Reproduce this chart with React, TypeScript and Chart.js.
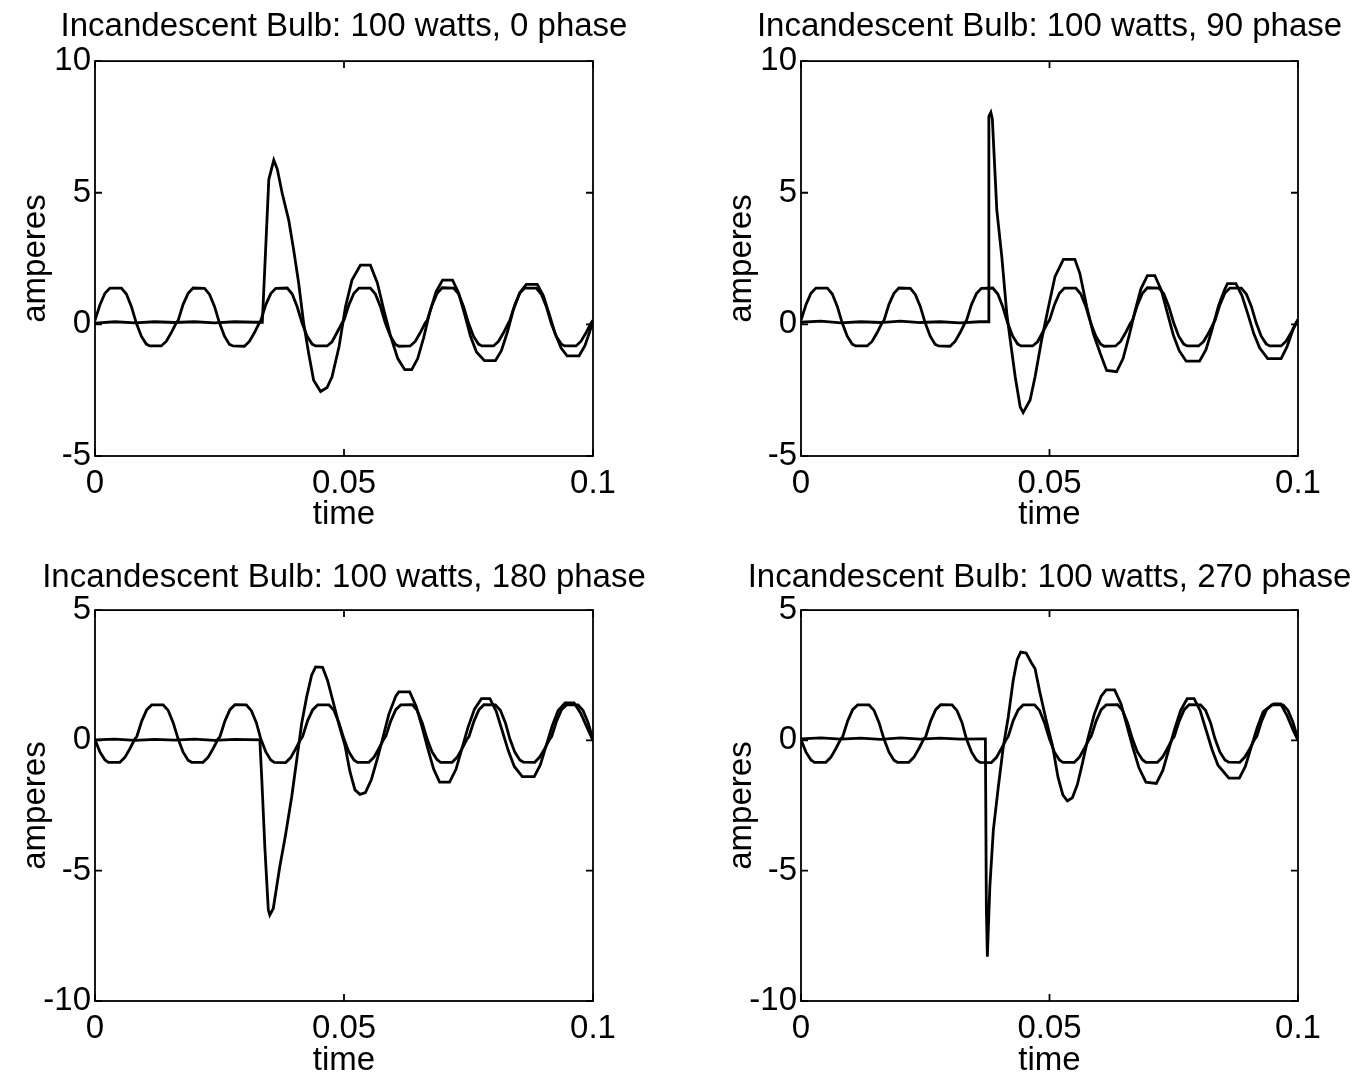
import React, { useEffect, useRef } from "react";
import { Chart, registerables } from "chart.js";

Chart.register(...registerables);

// ---------------- data ----------------
const TITLES = [
  "Incandescent Bulb: 100 watts, 0 phase",
  "Incandescent Bulb: 100 watts, 90 phase",
  "Incandescent Bulb: 100 watts, 180 phase",
  "Incandescent Bulb: 100 watts, 270 phase",
];
const X_TICKS = [0, 0.05, 0.1];
const Y_TICKS_TOP = [-5, 0, 5, 10];
const Y_TICKS_BOTTOM = [-10, -5, 0, 5];

// steady sinusoid, 0 / 90 phase panels
const TIME_SINE_A = [
  0, 0.001, 0.002, 0.003, 0.0053, 0.0063, 0.0073, 0.0083, 0.0093, 0.0103, 0.011, 0.0133, 0.0143, 0.0153, 0.0163,
  0.0167, 0.0177, 0.0187, 0.0197, 0.022, 0.023, 0.024, 0.025, 0.026, 0.027, 0.0277, 0.03, 0.031, 0.032, 0.033,
  0.0333, 0.0343, 0.0353, 0.0363, 0.0386, 0.0396, 0.0406, 0.0416, 0.0426, 0.0436, 0.0443, 0.0466, 0.0476, 0.0486, 0.0496,
  0.05, 0.051, 0.052, 0.053, 0.0553, 0.0563, 0.0573, 0.0583, 0.0593, 0.0603, 0.061, 0.0633, 0.0643, 0.0653, 0.0663,
  0.0667, 0.0677, 0.0687, 0.0697, 0.072, 0.073, 0.074, 0.075, 0.076, 0.077, 0.0777, 0.08, 0.081, 0.082, 0.083,
  0.0833, 0.0843, 0.0853, 0.0863, 0.0886, 0.0896, 0.0906, 0.0916, 0.0926, 0.0936, 0.0943, 0.0966, 0.0976, 0.0986, 0.0996,
  0.1,
];
const SINE_A = [
  0.15, 0.75, 1.18, 1.38, 1.38, 1.15, 0.68, 0.05, -0.45, -0.75, -0.82, -0.82, -0.65, -0.32, 0.05,
  0.15, 0.76, 1.18, 1.38, 1.37, 1.14, 0.68, 0.05, -0.45, -0.76, -0.82, -0.83, -0.65, -0.32, 0.06,
  0.15, 0.75, 1.17, 1.37, 1.38, 1.15, 0.67, 0.04, -0.45, -0.75, -0.82, -0.82, -0.66, -0.31, 0.05,
  0.16, 0.75, 1.18, 1.38, 1.38, 1.15, 0.68, 0.05, -0.44, -0.75, -0.83, -0.82, -0.65, -0.32, 0.05,
  0.15, 0.74, 1.18, 1.39, 1.38, 1.16, 0.68, 0.05, -0.45, -0.75, -0.82, -0.82, -0.65, -0.33, 0.05,
  0.15, 0.75, 1.19, 1.38, 1.38, 1.15, 0.69, 0.05, -0.45, -0.74, -0.82, -0.82, -0.64, -0.32, 0.05,
  0.15,
];

// steady sinusoid, 180 / 270 phase panels
const TIME_SINE_B = [
  0, 0.001, 0.002, 0.0027, 0.005, 0.006, 0.007, 0.008, 0.0084, 0.0094, 0.0104, 0.0114, 0.0137, 0.0147, 0.0157,
  0.0167, 0.0177, 0.0187, 0.0194, 0.0217, 0.0227, 0.0237, 0.0247, 0.0251, 0.0261, 0.0271, 0.0281, 0.0304, 0.0314, 0.0324,
  0.0333, 0.0343, 0.0353, 0.036, 0.0383, 0.0393, 0.0403, 0.0413, 0.0417, 0.0427, 0.0437, 0.0447, 0.047, 0.048, 0.049,
  0.05, 0.051, 0.052, 0.0527, 0.055, 0.056, 0.057, 0.058, 0.0584, 0.0594, 0.0604, 0.0614, 0.0637, 0.0647, 0.0657,
  0.0667, 0.0677, 0.0687, 0.0694, 0.0717, 0.0727, 0.0737, 0.0747, 0.0751, 0.0761, 0.0771, 0.0781, 0.0804, 0.0814, 0.0824,
  0.0833, 0.0843, 0.0853, 0.086, 0.0883, 0.0893, 0.0903, 0.0913, 0.0917, 0.0927, 0.0937, 0.0947, 0.097, 0.098, 0.099,
  0.1,
];
const SINE_B = [
  0.02, -0.45, -0.75, -0.84, -0.84, -0.65, -0.32, 0.05, 0.15, 0.75, 1.18, 1.36, 1.36, 1.15, 0.68,
  0.05, -0.45, -0.76, -0.84, -0.84, -0.65, -0.32, 0.05, 0.15, 0.75, 1.18, 1.37, 1.36, 1.14, 0.68,
  0.05, -0.44, -0.75, -0.84, -0.85, -0.66, -0.32, 0.04, 0.15, 0.76, 1.17, 1.36, 1.36, 1.15, 0.67,
  0.05, -0.45, -0.75, -0.84, -0.84, -0.65, -0.31, 0.05, 0.16, 0.75, 1.18, 1.36, 1.37, 1.15, 0.68,
  0.05, -0.45, -0.74, -0.84, -0.84, -0.65, -0.32, 0.05, 0.15, 0.74, 1.18, 1.37, 1.36, 1.16, 0.68,
  0.06, -0.45, -0.75, -0.83, -0.84, -0.64, -0.32, 0.05, 0.15, 0.75, 1.19, 1.36, 1.36, 1.15, 0.69,
  0.03,
];

// switched-on bulb current, 0 phase
const TIME_I0 = [
  0, 0.004, 0.008, 0.012, 0.016, 0.02, 0.024, 0.028, 0.032, 0.0336, 0.0349, 0.0359, 0.0366, 0.0376, 0.0389,
  0.0399, 0.0409, 0.0419, 0.0429, 0.0439, 0.0453, 0.0466, 0.0476, 0.049, 0.0503, 0.0516, 0.0533, 0.0553, 0.0567,
  0.058, 0.0594, 0.0608, 0.0622, 0.0636, 0.0648, 0.066, 0.0672, 0.0685, 0.0698, 0.0718, 0.073, 0.0742, 0.0754,
  0.0766, 0.0782, 0.0804, 0.0816, 0.0828, 0.084, 0.0853, 0.0866, 0.0888, 0.09, 0.0912, 0.0924, 0.0936, 0.0948,
  0.0972, 0.0984, 0.0993, 0.1,
];
const CURRENT_I0 = [
  0.05, 0.1, 0.06, 0.1, 0.07, 0.1, 0.06, 0.1, 0.08, 0.08, 5.5, 6.24, 5.9, 4.97, 3.96,
  2.82, 1.56, 0.04, -1.1, -2.12, -2.55, -2.4, -1.99, -0.85, 0.67, 1.68, 2.25, 2.25, 1.57,
  0.54, -0.47, -1.3, -1.72, -1.72, -1.3, -0.5, 0.45, 1.25, 1.68, 1.68, 1.2, 0.4, -0.45,
  -1.05, -1.38, -1.38, -1.0, -0.3, 0.55, 1.2, 1.52, 1.52, 1.1, 0.4, -0.35, -0.9, -1.2,
  -1.2, -0.8, -0.3, 0.15,
];

// 90 phase
const TIME_I90 = [
  0, 0.004, 0.008, 0.012, 0.016, 0.02, 0.024, 0.028, 0.032, 0.036, 0.0377, 0.0378, 0.0382, 0.0385, 0.0394,
  0.0404, 0.0414, 0.0421, 0.0431, 0.0441, 0.0447, 0.0461, 0.0471, 0.0484, 0.0498, 0.0511, 0.0528, 0.0551,
  0.0561, 0.0575, 0.0588, 0.0602, 0.0615, 0.0635, 0.0648, 0.066, 0.0672, 0.0684, 0.0697, 0.0712, 0.0725,
  0.0737, 0.0749, 0.0761, 0.0775, 0.0802, 0.0815, 0.0827, 0.084, 0.0852, 0.0858, 0.0875, 0.0887, 0.0899,
  0.0911, 0.0923, 0.0939, 0.0966, 0.0978, 0.099, 0.1,
];
const CURRENT_I90 = [
  0.08, 0.12, 0.06, 0.1, 0.07, 0.12, 0.07, 0.1, 0.06, 0.1, 0.1, 7.9, 8.05, 7.8, 4.34,
  2.57, 0.42, -0.6, -1.99, -3.13, -3.35, -2.87, -1.99, -0.6, 0.67, 1.81, 2.47, 2.47,
  1.94, 0.67, -0.34, -1.1, -1.75, -1.8, -1.3, -0.45, 0.5, 1.35, 1.85, 1.85, 1.3,
  0.45, -0.4, -1.0, -1.4, -1.4, -0.95, -0.2, 0.7, 1.3, 1.55, 1.55, 1.1, 0.4,
  -0.35, -0.9, -1.3, -1.3, -0.85, -0.2, 0.2,
];

// 180 phase
const TIME_I180 = [
  0, 0.004, 0.008, 0.012, 0.016, 0.02, 0.024, 0.028, 0.0331, 0.0335, 0.0341, 0.0348, 0.0351, 0.0358, 0.0371,
  0.0382, 0.0395, 0.0405, 0.0415, 0.0425, 0.0435, 0.0443, 0.0457, 0.0467, 0.0478, 0.049, 0.0502, 0.0512,
  0.0522, 0.0532, 0.0543, 0.0555, 0.0567, 0.0578, 0.059, 0.0604, 0.061, 0.0632, 0.0645, 0.0657, 0.0668,
  0.068, 0.0692, 0.0712, 0.0725, 0.0737, 0.0749, 0.0762, 0.0776, 0.0793, 0.0806, 0.0818, 0.083, 0.0842,
  0.0858, 0.0882, 0.0894, 0.0906, 0.0918, 0.093, 0.0944, 0.0962, 0.0975, 0.0988, 0.1,
];
const CURRENT_I180 = [
  0.02, 0.05, 0.0, 0.04, 0.01, 0.05, 0.0, 0.04, 0.02, -1.52, -4.08, -6.5, -6.7, -6.45, -4.85,
  -3.7, -2.16, -0.76, 0.65, 1.67, 2.5, 2.82, 2.8, 2.3, 1.5, 0.6, -0.2, -1.2,
  -1.9, -2.07, -2.0, -1.5, -0.7, 0.1, 1.0, 1.7, 1.86, 1.86, 1.3, 0.5, -0.3,
  -1.1, -1.6, -1.6, -1.1, -0.3, 0.5, 1.2, 1.6, 1.6, 1.1, 0.35, -0.4, -1.0,
  -1.39, -1.39, -0.95, -0.2, 0.55, 1.15, 1.44, 1.44, 1.05, 0.5, 0.0,
];

// 270 phase
const TIME_I270 = [
  0, 0.004, 0.008, 0.012, 0.016, 0.02, 0.024, 0.028, 0.032, 0.0368, 0.0371, 0.0373, 0.0375, 0.0377, 0.038,
  0.0387, 0.0397, 0.0407, 0.0417, 0.0427, 0.0435, 0.0442, 0.0453, 0.0463, 0.0471, 0.048, 0.0493, 0.0506,
  0.0517, 0.0527, 0.0536, 0.0546, 0.0556, 0.0566, 0.0577, 0.059, 0.0604, 0.0614, 0.0631, 0.0644, 0.0656,
  0.0668, 0.068, 0.0694, 0.0715, 0.0728, 0.074, 0.0752, 0.0764, 0.0777, 0.0791, 0.0803, 0.0815, 0.0827,
  0.0839, 0.0861, 0.0882, 0.0894, 0.0906, 0.0918, 0.093, 0.0951, 0.0965, 0.0978, 0.099, 0.1,
];
const CURRENT_I270 = [
  0.06, 0.1, 0.05, 0.09, 0.04, 0.1, 0.05, 0.09, 0.05, 0.06, 0.06, -6.5, -8.3, -7.2, -5.6,
  -3.44, -1.78, -0.25, 0.9, 2.31, 3.1, 3.39, 3.35, 3.0, 2.75, 1.9, 0.8, -0.2,
  -1.4, -2.1, -2.32, -2.2, -1.7, -0.9, 0.05, 1.0, 1.7, 1.94, 1.94, 1.4, 0.55,
  -0.3, -1.05, -1.6, -1.65, -1.15, -0.35, 0.45, 1.15, 1.6, 1.6, 1.15, 0.4, -0.35,
  -0.95, -1.45, -1.45, -1.0, -0.25, 0.5, 1.1, 1.4, 1.4, 0.95, 0.4, 0.0,
];

// ---------------- layout ----------------
const FONT = "'Liberation Sans', Arial, Helvetica, sans-serif";

type Box = {
  x: number; y: number; w: number; h: number;
  xAxisH: number; xTitlePad: number;
  titleTop: number; titleBottom: number;
};

// canvas width = 95 (left axis) + plot width + 95 (blank balancing axis), so the
// full-width title is centred over the plot box
const PANELS: Box[] = [
  { x: 0, y: 0, w: 688, h: 539, xAxisH: 83, xTitlePad: 4, titleTop: 7, titleBottom: 14.5 },
  { x: 706, y: 0, w: 687, h: 539, xAxisH: 83, xTitlePad: 4, titleTop: 7, titleBottom: 14.5 },
  { x: 0, y: 549, w: 688, h: 529, xAxisH: 77, xTitlePad: -3, titleTop: 9, titleBottom: 12.5 },
  { x: 706, y: 549, w: 687, h: 529, xAxisH: 77, xTitlePad: -3, titleTop: 9, titleBottom: 12.5 },
];

const SERIES = [
  { st: TIME_SINE_A, sv: SINE_A, it: TIME_I0, iv: CURRENT_I0, yTicks: Y_TICKS_TOP },
  { st: TIME_SINE_A, sv: SINE_A, it: TIME_I90, iv: CURRENT_I90, yTicks: Y_TICKS_TOP },
  { st: TIME_SINE_B, sv: SINE_B, it: TIME_I180, iv: CURRENT_I180, yTicks: Y_TICKS_BOTTOM },
  { st: TIME_SINE_B, sv: SINE_B, it: TIME_I270, iv: CURRENT_I270, yTicks: Y_TICKS_BOTTOM },
];

const framePlugin = {
  id: "matlabFrame",
  afterDraw(chart: any) {
    const { ctx, chartArea: a, scales } = chart;
    ctx.save();
    ctx.strokeStyle = "#000";
    ctx.lineWidth = 1.8;
    ctx.strokeRect(a.left, a.top, a.right - a.left, a.bottom - a.top);
    const L = 7;
    ctx.beginPath();
    scales.x.ticks.forEach((t: any) => {
      const px = scales.x.getPixelForValue(t.value);
      ctx.moveTo(px, a.bottom);
      ctx.lineTo(px, a.bottom - L);
      ctx.moveTo(px, a.top);
      ctx.lineTo(px, a.top + L);
    });
    scales.y.ticks.forEach((t: any) => {
      const py = scales.y.getPixelForValue(t.value);
      ctx.moveTo(a.left, py);
      ctx.lineTo(a.left + L, py);
      ctx.moveTo(a.right, py);
      ctx.lineTo(a.right - L, py);
    });
    ctx.stroke();
    ctx.restore();
  },
};

function Panel({ index }: { index: number }) {
  const ref = useRef<HTMLCanvasElement | null>(null);
  const box = PANELS[index];
  useEffect(() => {
    const s = SERIES[index];
    const toPts = (ts: number[], vs: number[]) => ts.map((t, i) => ({ x: t, y: vs[i] }));
    const yTicks = s.yTicks;
    const chart = new Chart(ref.current as HTMLCanvasElement, {
      type: "line",
      data: {
        datasets: [
          {
            data: toPts(s.st, s.sv),
            borderColor: "#000",
            borderWidth: 2.8,
            pointRadius: 0,
            tension: 0,
            fill: false,
          },
          {
            data: toPts(s.it, s.iv),
            borderColor: "#000",
            borderWidth: 2.8,
            pointRadius: 0,
            tension: 0,
            fill: false,
          },
        ],
      },
      options: {
        responsive: false,
        animation: false,
        layout: { padding: 0 },
        plugins: {
          legend: { display: false },
          tooltip: { enabled: false },
          title: {
            display: true,
            text: TITLES[index],
            color: "#000",
            font: { family: FONT, size: 33, weight: "normal" },
            padding: { top: box.titleTop, bottom: box.titleBottom },
          },
        },
        scales: {
          x: {
            type: "linear",
            min: 0,
            max: 0.1,
            grid: { display: false, drawTicks: false },
            border: { display: false },
            afterBuildTicks: (sc: any) => {
              sc.ticks = X_TICKS.map((v) => ({ value: v }));
            },
            afterFit: (sc: any) => {
              sc.height = box.xAxisH;
            },
            ticks: {
              color: "#000",
              font: { family: FONT, size: 33 },
              padding: 8,
              maxRotation: 0,
              autoSkip: false,
              callback: (v: any) => String(v),
            },
            title: {
              display: true,
              text: "time",
              color: "#000",
              font: { family: FONT, size: 33 },
              padding: { top: 0, bottom: box.xTitlePad },
            },
          },
          y: {
            type: "linear",
            min: yTicks[0],
            max: yTicks[yTicks.length - 1],
            grid: { display: false, drawTicks: false },
            border: { display: false },
            afterBuildTicks: (sc: any) => {
              sc.ticks = yTicks.map((v) => ({ value: v }));
            },
            afterFit: (sc: any) => {
              sc.width = 95;
            },
            ticks: {
              color: "#000",
              font: { family: FONT, size: 33 },
              padding: 4,
              autoSkip: false,
              callback: (v: any) => String(v),
            },
            title: {
              display: true,
              text: "amperes",
              color: "#000",
              font: { family: FONT, size: 33 },
              padding: { top: 16, bottom: 0 },
            },
          },
          yBalance: {
            type: "linear",
            position: "right",
            display: true,
            min: 0,
            max: 1,
            grid: { display: false, drawTicks: false },
            border: { display: false },
            ticks: { display: false },
            afterFit: (sc: any) => {
              sc.width = 95;
            },
          },
        },
      },
      plugins: [framePlugin],
    } as any);
    return () => chart.destroy();
  }, [index]);
  return (
    <canvas
      ref={ref}
      width={box.w}
      height={box.h}
      style={{ position: "absolute", left: box.x, top: box.y, width: box.w, height: box.h }}
    />
  );
}

export default function App() {
  return (
    <div
      style={{
        position: "absolute",
        left: 0,
        top: 0,
        width: 1354,
        height: 1078,
        background: "#fff",
        overflow: "hidden",
      }}
    >
      {PANELS.map((_, i) => (
        <Panel key={i} index={i} />
      ))}
    </div>
  );
}
